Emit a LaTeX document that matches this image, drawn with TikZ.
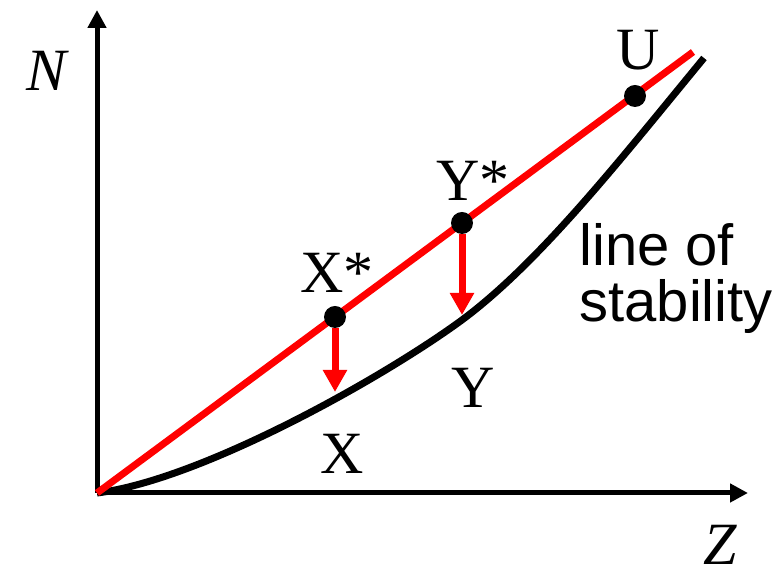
\documentclass[tikz,border=0pt]{standalone}
\usepackage{fontspec}
\setmainfont{Liberation Serif}
\setsansfont{Liberation Sans}
\usetikzlibrary{arrows.meta}

\begin{document}
\begin{tikzpicture}[x=0.5pt,y=-0.5pt,
    dot/.style={circle,fill=black,minimum size=11pt,inner sep=0pt},
    lbl/.style={font=\fontsize{30}{32}\selectfont,inner sep=0pt},
    axis/.style={line width=2.5pt,-{Triangle[length=9pt,width=9pt]}},
    drop/.style={red,line width=3.5pt,-{Triangle[length=11pt,width=11.5pt]}}]

\useasboundingbox (0,0) rectangle (784,576);

% Axes
\coordinate (O) at (97,493);
\coordinate (ztip) at (748,493);
\coordinate (ntip) at (97,10);
\draw[axis] (O) -- (ztip);
\draw[axis] (O) -- (ntip);
\node[lbl] (N) at (48,71) {\textit{N}};
\node[lbl] (Z) at (720,545) {\textit{Z}};

% Line of stability
\coordinate (ymid) at (462,320);
\coordinate (cend) at (704,58);
\draw[line width=3.5pt] (O) .. controls (200,480) and (380,380) .. (ymid)
    .. controls (540,262) and (620,160) .. (cend);
\node[font=\sffamily\fontsize{29}{28}\selectfont,align=left,inner sep=0pt,
    anchor=north west] (stab) at (579,223) {line of\\stability};

% Red line and points on it
\coordinate (rend) at (693,52);
\draw[red,line width=3.5pt] (O) -- (rend);
\node[dot] (xs) at (335,317) {};
\node[dot] (ys) at (462,223) {};
\node[dot] (u) at (635,96) {};
\node[lbl] (xslbl) at (337,273) {X*};
\node[lbl] (yslbl) at (473,181) {Y*};
\node[lbl] (ulbl) at (638,50) {U};

% Drops to the curve
\coordinate (xb) at (335,392);
\coordinate (yb) at (462,315);
\draw[drop] (xs) -- (xb);
\draw[drop] (ys) -- (yb);
\node[lbl] (xlbl) at (342,454) {X};
\node[lbl] (ylbl) at (473,388) {Y};
\end{tikzpicture}
\end{document}
